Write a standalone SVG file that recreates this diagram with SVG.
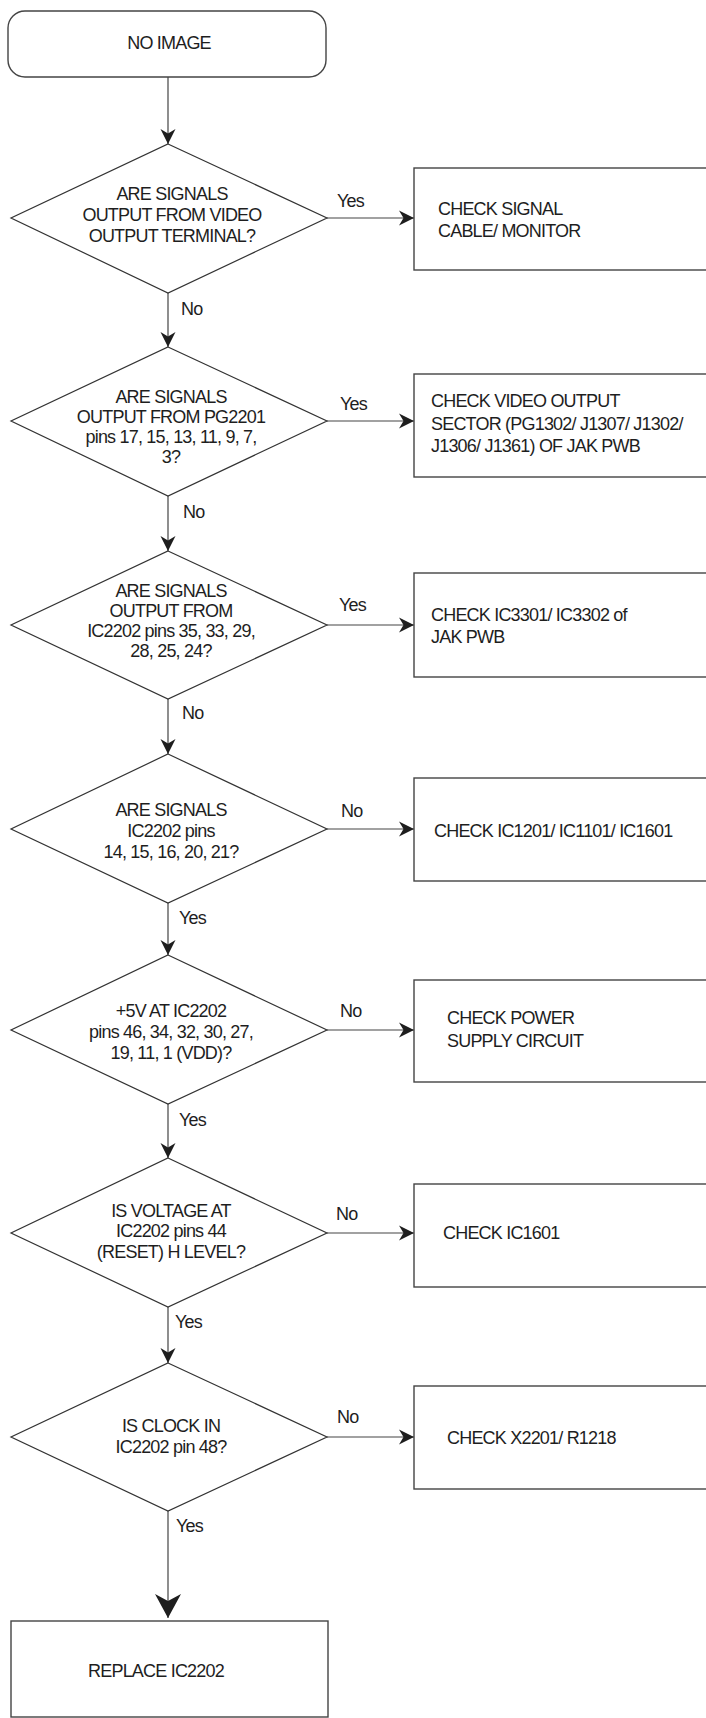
<svg xmlns="http://www.w3.org/2000/svg" width="706" height="1718" viewBox="0 0 706 1718">
<style>
text{font-family:"Liberation Sans",Arial,sans-serif;font-size:18px;letter-spacing:-0.8px;fill:#1e1e1e}
.c{text-anchor:middle}
.shape{fill:#fff;stroke:#333;stroke-width:1.2}
.box{fill:#fff;stroke:#444;stroke-width:1.4}
.ln{fill:none;stroke:#444;stroke-width:1.2}
</style>
<defs>
<marker id="ah" markerUnits="userSpaceOnUse" markerWidth="18" markerHeight="18" viewBox="-16 -9 18 18" refX="0" refY="0" orient="auto">
<path d="M0,0 L-15,-7.5 L-10.5,0 L-15,7.5 Z" fill="#1e1e1e"/>
</marker>
<marker id="ahb" markerUnits="userSpaceOnUse" markerWidth="28" markerHeight="30" viewBox="-26 -15 28 30" refX="0" refY="0" orient="auto">
<path d="M0,0 L-24,-13 L-17,0 L-24,13 Z" fill="#1e1e1e"/>
</marker>
</defs>

<g id="connectors">
<line class="ln" x1="168" y1="77" x2="168" y2="144" marker-end="url(#ah)"/>
<line class="ln" x1="168" y1="293" x2="168" y2="347" marker-end="url(#ah)"/>
<line class="ln" x1="168" y1="496" x2="168" y2="551" marker-end="url(#ah)"/>
<line class="ln" x1="168" y1="699" x2="168" y2="754" marker-end="url(#ah)"/>
<line class="ln" x1="168" y1="903" x2="168" y2="955" marker-end="url(#ah)"/>
<line class="ln" x1="168" y1="1104" x2="168" y2="1158" marker-end="url(#ah)"/>
<line class="ln" x1="168" y1="1307" x2="168" y2="1363" marker-end="url(#ah)"/>
<line class="ln" x1="168" y1="1511" x2="168" y2="1618" marker-end="url(#ahb)"/>
<line class="ln" x1="327" y1="218" x2="414" y2="218" marker-end="url(#ah)"/>
<line class="ln" x1="327" y1="421" x2="414" y2="421" marker-end="url(#ah)"/>
<line class="ln" x1="327" y1="625" x2="414" y2="625" marker-end="url(#ah)"/>
<line class="ln" x1="327" y1="829" x2="414" y2="829" marker-end="url(#ah)"/>
<line class="ln" x1="327" y1="1030" x2="414" y2="1030" marker-end="url(#ah)"/>
<line class="ln" x1="327" y1="1233" x2="414" y2="1233" marker-end="url(#ah)"/>
<line class="ln" x1="327" y1="1437" x2="414" y2="1437" marker-end="url(#ah)"/>
<text x="337" y="207">Yes</text>
<text x="340" y="410">Yes</text>
<text x="339" y="611">Yes</text>
<text x="341" y="817">No</text>
<text x="340" y="1017">No</text>
<text x="336" y="1220">No</text>
<text x="337" y="1423">No</text>
<text x="181" y="315">No</text>
<text x="183" y="518">No</text>
<text x="182" y="719">No</text>
<text x="179" y="924">Yes</text>
<text x="179" y="1126">Yes</text>
<text x="175" y="1328">Yes</text>
<text x="176" y="1532">Yes</text>
</g>

<g id="start">
<rect class="box" x="8" y="11" width="318" height="66" rx="17" ry="17"/>
<text class="c" x="169" y="49">NO IMAGE</text>
</g>

<g id="d1">
<polygon class="shape" points="168,144 327,218 168,293 11,218"/>
<text class="c" x="172" y="200">ARE SIGNALS</text>
<text class="c" x="172" y="221">OUTPUT FROM VIDEO</text>
<text class="c" x="172" y="242">OUTPUT TERMINAL?</text>
</g>
<g id="r1">
<rect class="box" x="414" y="168" width="300" height="102"/>
<text x="438" y="215">CHECK SIGNAL</text>
<text x="438" y="237">CABLE/ MONITOR</text>
</g>

<g id="d2">
<polygon class="shape" points="168,347 327,421 168,496 11,421"/>
<text class="c" x="171" y="403">ARE SIGNALS</text>
<text class="c" x="171" y="423">OUTPUT FROM PG2201</text>
<text class="c" x="171" y="443">pins 17, 15, 13, 11, 9, 7,</text>
<text class="c" x="171" y="463">3?</text>
</g>
<g id="r2">
<rect class="box" x="414" y="374" width="300" height="103"/>
<text x="431" y="407">CHECK VIDEO OUTPUT</text>
<text x="431" y="430">SECTOR (PG1302/ J1307/ J1302/</text>
<text x="431" y="452">J1306/ J1361) OF JAK PWB</text>
</g>

<g id="d3">
<polygon class="shape" points="168,551 327,625 168,699 11,625"/>
<text class="c" x="171" y="597">ARE SIGNALS</text>
<text class="c" x="171" y="617">OUTPUT FROM</text>
<text class="c" x="171" y="637">IC2202 pins 35, 33, 29,</text>
<text class="c" x="171" y="657">28, 25, 24?</text>
</g>
<g id="r3">
<rect class="box" x="414" y="573" width="300" height="104"/>
<text x="431" y="621">CHECK IC3301/ IC3302 of</text>
<text x="431" y="643">JAK PWB</text>
</g>

<g id="d4">
<polygon class="shape" points="168,754 327,829 168,903 11,829"/>
<text class="c" x="171" y="816">ARE SIGNALS</text>
<text class="c" x="171" y="837">IC2202 pins</text>
<text class="c" x="171" y="858">14, 15, 16, 20, 21?</text>
</g>
<g id="r4">
<rect class="box" x="414" y="778" width="300" height="103"/>
<text x="434" y="837">CHECK IC1201/ IC1101/ IC1601</text>
</g>

<g id="d5">
<polygon class="shape" points="168,955 327,1030 168,1104 11,1030"/>
<text class="c" x="171" y="1017">+5V AT IC2202</text>
<text class="c" x="171" y="1038">pins 46, 34, 32, 30, 27,</text>
<text class="c" x="171" y="1059">19, 11, 1 (VDD)?</text>
</g>
<g id="r5">
<rect class="box" x="414" y="980" width="300" height="102"/>
<text x="447" y="1024">CHECK POWER</text>
<text x="447" y="1047">SUPPLY CIRCUIT</text>
</g>

<g id="d6">
<polygon class="shape" points="168,1158 327,1233 168,1307 11,1233"/>
<text class="c" x="171" y="1217">IS VOLTAGE AT</text>
<text class="c" x="171" y="1237">IC2202 pins 44</text>
<text class="c" x="171" y="1258">(RESET) H LEVEL?</text>
</g>
<g id="r6">
<rect class="box" x="414" y="1184" width="300" height="103"/>
<text x="443" y="1239">CHECK IC1601</text>
</g>

<g id="d7">
<polygon class="shape" points="168,1363 327,1437 168,1511 11,1437"/>
<text class="c" x="171" y="1432">IS CLOCK IN</text>
<text class="c" x="171" y="1453">IC2202 pin 48?</text>
</g>
<g id="r7">
<rect class="box" x="414" y="1386" width="300" height="103"/>
<text x="447" y="1444">CHECK X2201/ R1218</text>
</g>

<g id="end">
<rect class="box" x="11" y="1621" width="317" height="96"/>
<text class="c" x="156" y="1677">REPLACE IC2202</text>
</g>
</svg>
